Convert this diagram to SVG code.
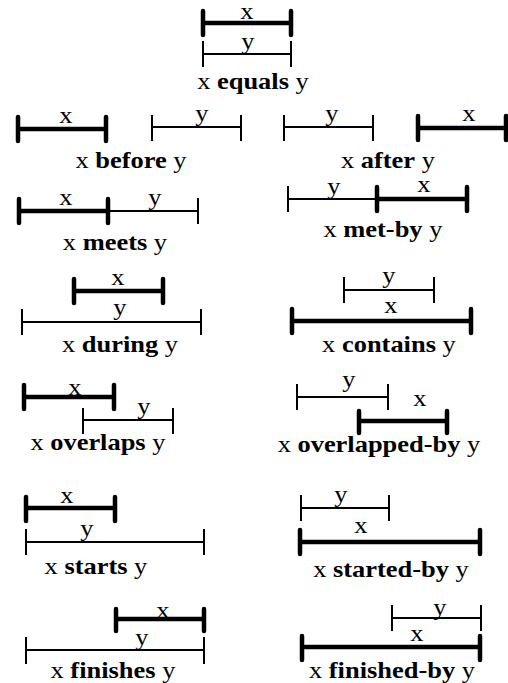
<svg xmlns="http://www.w3.org/2000/svg" width="508" height="683" viewBox="0 0 508 683">
  <style>
    .thick { fill: none; stroke: #000; stroke-width: 4.5; stroke-linecap: round; }
    .thin { fill: none; stroke: #000; stroke-width: 2; stroke-linecap: butt; }
    text { font-family: "Liberation Serif", "Times New Roman", serif; font-size: 23px; text-anchor: middle; fill: #000;
           transform-box: fill-box; transform-origin: center; transform: scaleX(1.15); }
    .b { font-weight: bold; }
  </style>
  <rect width="508" height="683" fill="#fff"/>

  <g id="equals">
    <path class="thick" d="M203 11V35M203 23H291M291 11V35"/>
    <path class="thin" d="M203 41V67M203 54H291M291 41V67"/>
    <text x="247" y="19">x</text>
    <text x="248" y="49">y</text>
    <text x="253" y="89">x <tspan class="b">equals</tspan> y</text>
  </g>

  <g id="before">
    <path class="thick" d="M18 117V141M18 129H106M106 117V141"/>
    <path class="thin" d="M152 115V141M152 127H241M241 115V141"/>
    <text x="66" y="123">x</text>
    <text x="202" y="121">y</text>
    <text x="131" y="168">x <tspan class="b">before</tspan> y</text>
  </g>

  <g id="after">
    <path class="thin" d="M284 115V141M284 127H373M373 115V141"/>
    <path class="thick" d="M418 116V140M418 128H506M506 116V140"/>
    <text x="332" y="121">y</text>
    <text x="469" y="121">x</text>
    <text x="388" y="168">x <tspan class="b">after</tspan> y</text>
  </g>

  <g id="meets">
    <path class="thin" d="M108 211H198M198 198V224"/>
    <path class="thick" d="M19 199V223M19 211H108M108 199V223"/>
    <text x="66" y="205">x</text>
    <text x="155" y="205">y</text>
    <text x="115" y="250">x <tspan class="b">meets</tspan> y</text>
  </g>

  <g id="met-by">
    <path class="thin" d="M288 186V212M288 199H377"/>
    <path class="thick" d="M377 187V211M377 199H467M467 187V211"/>
    <text x="334" y="194">y</text>
    <text x="424" y="192">x</text>
    <text x="383" y="237">x <tspan class="b">met-by</tspan> y</text>
  </g>

  <g id="during">
    <path class="thick" d="M74 279V303M74 291H163M163 279V303"/>
    <path class="thin" d="M22 309V335M22 322H201M201 309V335"/>
    <text x="118" y="285">x</text>
    <text x="120" y="315">y</text>
    <text x="120" y="352">x <tspan class="b">during</tspan> y</text>
  </g>

  <g id="contains">
    <path class="thin" d="M344 277V303M344 290H434M434 277V303"/>
    <path class="thick" d="M292 309V333M292 321H471M471 309V333"/>
    <text x="389" y="283">y</text>
    <text x="391" y="313">x</text>
    <text x="389" y="352">x <tspan class="b">contains</tspan> y</text>
  </g>

  <g id="overlaps">
    <path class="thick" d="M24 385V409M24 397H114M114 385V409"/>
    <path class="thin" d="M83 408V434M83 420H173M173 408V434"/>
    <text x="75" y="395">x</text>
    <text x="144" y="414">y</text>
    <text x="98" y="450">x <tspan class="b">overlaps</tspan> y</text>
  </g>

  <g id="overlapped-by">
    <path class="thin" d="M297 384V410M297 397H388M388 384V410"/>
    <path class="thick" d="M359 411V433M359 421H447M447 411V433"/>
    <text x="349" y="387">y</text>
    <text x="420" y="406">x</text>
    <text x="379" y="452">x <tspan class="b">overlapped-by</tspan> y</text>
  </g>

  <g id="starts">
    <path class="thick" d="M26 497V521M26 508H115M115 497V521"/>
    <path class="thin" d="M26 529V555M26 542H204M204 529V555"/>
    <text x="67" y="503">x</text>
    <text x="87" y="536">y</text>
    <text x="96" y="574">x <tspan class="b">starts</tspan> y</text>
  </g>

  <g id="started-by">
    <path class="thin" d="M301 495V521M301 508H389M389 495V521"/>
    <path class="thick" d="M300 530V554M300 542H480M480 530V554"/>
    <text x="341" y="502">y</text>
    <text x="361" y="533">x</text>
    <text x="391" y="577">x <tspan class="b">started-by</tspan> y</text>
  </g>

  <g id="finishes">
    <path class="thick" d="M116 609V631M116 619H204M204 609V631"/>
    <path class="thin" d="M26 637V664M26 650H204M204 637V664"/>
    <text x="163" y="618">x</text>
    <text x="142" y="645">y</text>
    <text x="113" y="678">x <tspan class="b">finishes</tspan> y</text>
  </g>

  <g id="finished-by">
    <path class="thin" d="M392 605V631M392 618H481M481 605V631"/>
    <path class="thick" d="M302 636V660M302 647H480M480 636V660"/>
    <text x="440" y="615">y</text>
    <text x="417" y="641">x</text>
    <text x="392" y="678">x <tspan class="b">finished-by</tspan> y</text>
  </g>
</svg>
